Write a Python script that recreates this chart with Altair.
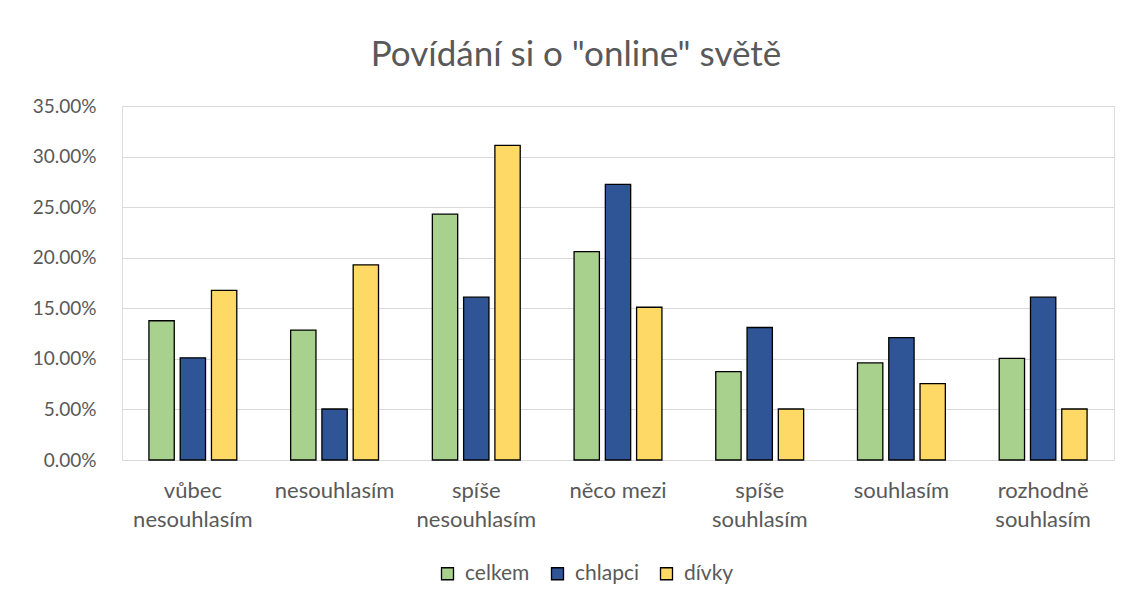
import altair as alt
import pandas as pd

categories = ["vůbec\nnesouhlasím", "nesouhlasím", "spíše\nnesouhlasím", "něco mezi",
              "spíše\nsouhlasím", "souhlasím", "rozhodně\nsouhlasím"]
series = ["celkem", "chlapci", "dívky"]
celkem = [0.1377, 0.1285, 0.2430, 0.2060, 0.0873, 0.0960, 0.1005]
chlapci = [0.1010, 0.0504, 0.1610, 0.2725, 0.1310, 0.1210, 0.1610]
divky = [0.1677, 0.1930, 0.3110, 0.1510, 0.0504, 0.0755, 0.0504]
colors = ["#A9D18E", "#2F5597", "#FFD966"]

rows = []
for i, c in enumerate(categories):
    for s, vals in zip(series, [celkem, chlapci, divky]):
        rows.append({"kat": c, "skupina": s, "hodnota": vals[i]})
df = pd.DataFrame(rows)

FONT = "Lato"
GRAY = "#595959"

chart = alt.Chart(df).mark_bar(stroke="black", strokeWidth=1.3).encode(
    x=alt.X("kat:N", sort=categories, title=None,
            scale=alt.Scale(paddingInner=0.38, paddingOuter=0.19),
            axis=alt.Axis(labelAngle=0, labelExpr="split(datum.label, '\\n')",
                          labelFontSize=22, labelColor=GRAY, labelFont=FONT,
                          labelPadding=20, labelLineHeight=29, ticks=False,
                          domainColor="#D9D9D9", domainWidth=1, grid=False)),
    xOffset=alt.XOffset("skupina:N", sort=series,
                        scale=alt.Scale(paddingInner=0.19, paddingOuter=0)),
    y=alt.Y("hodnota:Q", title=None,
            scale=alt.Scale(domain=[0, 0.35], nice=False),
            axis=alt.Axis(format=".2%", values=[0, 0.05, 0.1, 0.15, 0.2, 0.25, 0.3, 0.35],
                          labelFontSize=19, labelColor=GRAY, labelFont=FONT,
                          labelPadding=26, ticks=False, domain=False,
                          gridColor="#D9D9D9", gridWidth=1)),
    color=alt.Color("skupina:N", sort=series,
                    scale=alt.Scale(domain=series, range=colors),
                    legend=alt.Legend(title=None, orient="none", direction="horizontal",
                                      legendX=315, legendY=457,
                                      symbolType="square", symbolSize=144,
                                      symbolStrokeColor="black", symbolStrokeWidth=1.3,
                                      labelFontSize=21, labelColor=GRAY, labelFont=FONT,
                                      columnPadding=17, labelOffset=7)),
).properties(
    width=992, height=354,
    title=alt.TitleParams(text='Povídání si o "online" světě', fontSize=35,
                          font=FONT, color=GRAY, fontWeight="normal",
                          anchor="middle", offset=24, dx=-42),
    autosize=alt.AutoSizeParams(type="none"),
    padding={"left": 114, "top": 98, "right": 18, "bottom": 139},
).configure_view(stroke=None).configure(background="white")

chart.save("out.html", embed_options={"renderer": "svg", "actions": False})
